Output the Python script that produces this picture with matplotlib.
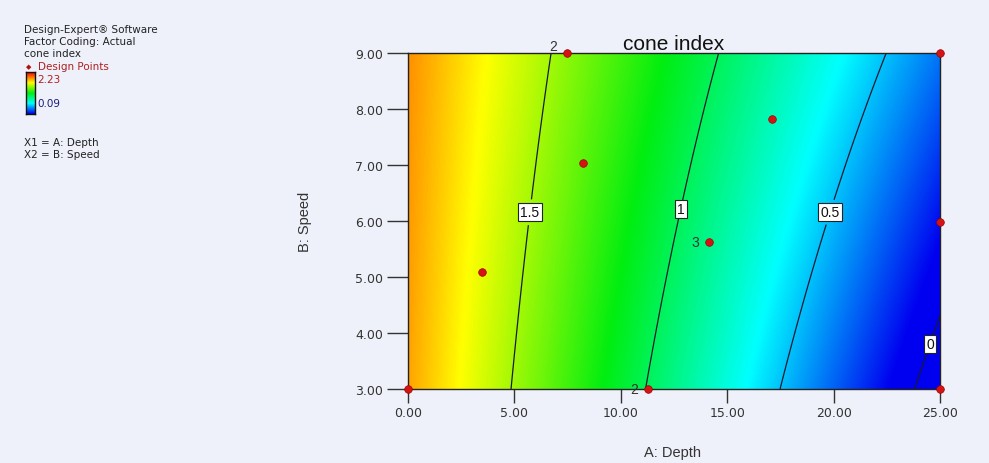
import numpy as np
import matplotlib
matplotlib.use("Agg")
import matplotlib.pyplot as plt
from matplotlib.colors import LinearSegmentedColormap

# ---------------- data ----------------
title = "cone index"
x_label = "A: Depth"
y_label = "B: Speed"
x_ticks = [0, 5, 10, 15, 20, 25]
y_ticks = [3, 4, 5, 6, 7, 8, 9]
x_range = [0, 25]
y_range = [3, 9]

b0 = 1.861
bA = -0.0869
bB = 0.00733
bAB = 0.0026

contour_levels = [0.0, 0.5, 1.0, 1.5]
label_pos_A = [24.25, 19.64, 12.69, 5.64]
label_pos_B = [3.84, 6.18, 6.23, 6.16]

resp_min = 0.09
resp_max = 2.23

design_A = [0.0, 3.48, 8.22, 7.47, 11.28, 14.14, 17.10, 25.0, 25.0, 25.0]
design_B = [3.0, 5.09, 7.04, 9.0, 3.0, 5.63, 7.82, 9.0, 5.98, 3.0]
replicates = [1, 1, 1, 2, 2, 3, 1, 1, 1, 1]

info_lines = ["Design-Expert\u00ae Software", "Factor Coding: Actual", "cone index"]
factor_lines = ["X1 = A: Depth", "X2 = B: Speed"]

# ---------------- figure ----------------
W, H = 989, 464
bg = "#EEF1F9"
fig = plt.figure(figsize=(W / 100, H / 100), dpi=100, facecolor=bg)

cmap = LinearSegmentedColormap.from_list(
    "de", ["#0000F0", "#00FFFF", "#00EE10", "#FFFF00", "#FF0000"])

ax = fig.add_axes([408 / W, 74 / H, 532 / W, 336 / H])
A = np.linspace(x_range[0], x_range[1], 500)
B = np.linspace(y_range[0], y_range[1], 300)
AA, BB = np.meshgrid(A, B)
Z = b0 + bA * AA + bB * BB + bAB * AA * BB

ax.imshow(Z, extent=[x_range[0], x_range[1], y_range[0], y_range[1]],
          origin="lower", aspect="auto", cmap=cmap,
          vmin=resp_min, vmax=resp_max, interpolation="bilinear")
cs = ax.contour(AA, BB, Z, levels=contour_levels, colors="#1a1a30",
                linewidths=0.9)
labels = ax.clabel(cs, contour_levels, inline=True, inline_spacing=2,
                   fontsize=10, fmt=lambda v: f"{v:g}",
                   manual=list(zip(label_pos_A, label_pos_B)))
for t in labels:
    t.set_rotation(0)
    t.set_family("Liberation Sans")
    t.set_color("#111111")
    t.set_bbox(dict(facecolor="white", edgecolor="#222222", linewidth=0.8,
                    boxstyle="square,pad=0.15"))

ax.plot(design_A, design_B, linestyle="none", marker="o", markersize=5.5,
        color="#D41414", markeredgecolor="#A00000", markeredgewidth=0.5,
        clip_on=False, zorder=5)
for a, b, r in zip(design_A, design_B, replicates):
    if r > 1:
        ax.annotate(str(r), (a, b), xytext=(-10, 0), textcoords="offset points",
                    ha="center", va="bottom" if b >= y_range[1] else "center",
                    fontsize=10, color="#333333", family="Liberation Sans",
                    zorder=6, annotation_clip=False)

ax.set_xlim(*x_range)
ax.set_ylim(*y_range)
ax.set_xticks(x_ticks)
ax.set_yticks(y_ticks)
ax.set_xticklabels([f"{v:.2f}" for v in x_ticks])
ax.set_yticklabels([f"{v:.2f}" for v in y_ticks])
ax.tick_params(axis="x", length=10, width=1, pad=2.5, labelsize=9,
               colors="#333333")
ax.tick_params(axis="y", length=15, width=1, pad=3, labelsize=9,
               colors="#333333")
for s in ax.spines.values():
    s.set_color("#222222")
    s.set_linewidth(1)

ax.set_title(title, fontsize=15, family="Liberation Sans", color="#111111",
             pad=3)
fig.text(672 / W, 1 - 453 / H, x_label, ha="center", va="center",
         fontsize=10.5, family="Liberation Sans", color="#333333")
fig.text(305 / W, 1 - 222 / H, y_label, ha="center", va="center", rotation=90,
         fontsize=10.5, family="Liberation Sans", color="#333333")

# ---------------- info / legend block ----------------
fs = 7.5
for i, s in enumerate(info_lines):
    fig.text(24 / W, 1 - (30 + 12 * i) / H, s, ha="left", va="center",
             fontsize=fs, color="#222222")
fig.text(29 / W, 1 - 67 / H, "\u25c6", ha="center", va="center",
         fontsize=5, color="#B01010")
fig.text(38 / W, 1 - 67 / H, "Design Points", ha="left", va="center",
         fontsize=fs, color="#B02020")
cax = fig.add_axes([26 / W, 1 - 115 / H, 9 / W, 42 / H])
cax.imshow(np.linspace(resp_max, resp_min, 64).reshape(-1, 1), cmap=cmap,
           vmin=resp_min, vmax=resp_max, aspect="auto")
cax.set_xticks([])
cax.set_yticks([])
for s in cax.spines.values():
    s.set_color("#111111")
    s.set_linewidth(1)
fig.text(37 / W, 1 - 80 / H, f"{resp_max:.2f}", ha="left", va="center",
         fontsize=fs, color="#B02020")
fig.text(37 / W, 1 - 104 / H, f"{resp_min:.2f}", ha="left", va="center",
         fontsize=fs, color="#1A1A80")
for i, s in enumerate(factor_lines):
    fig.text(24 / W, 1 - (143 + 12 * i) / H, s, ha="left", va="center",
             fontsize=fs, color="#222222")

fig.savefig("out.png", dpi=100, facecolor=bg)
